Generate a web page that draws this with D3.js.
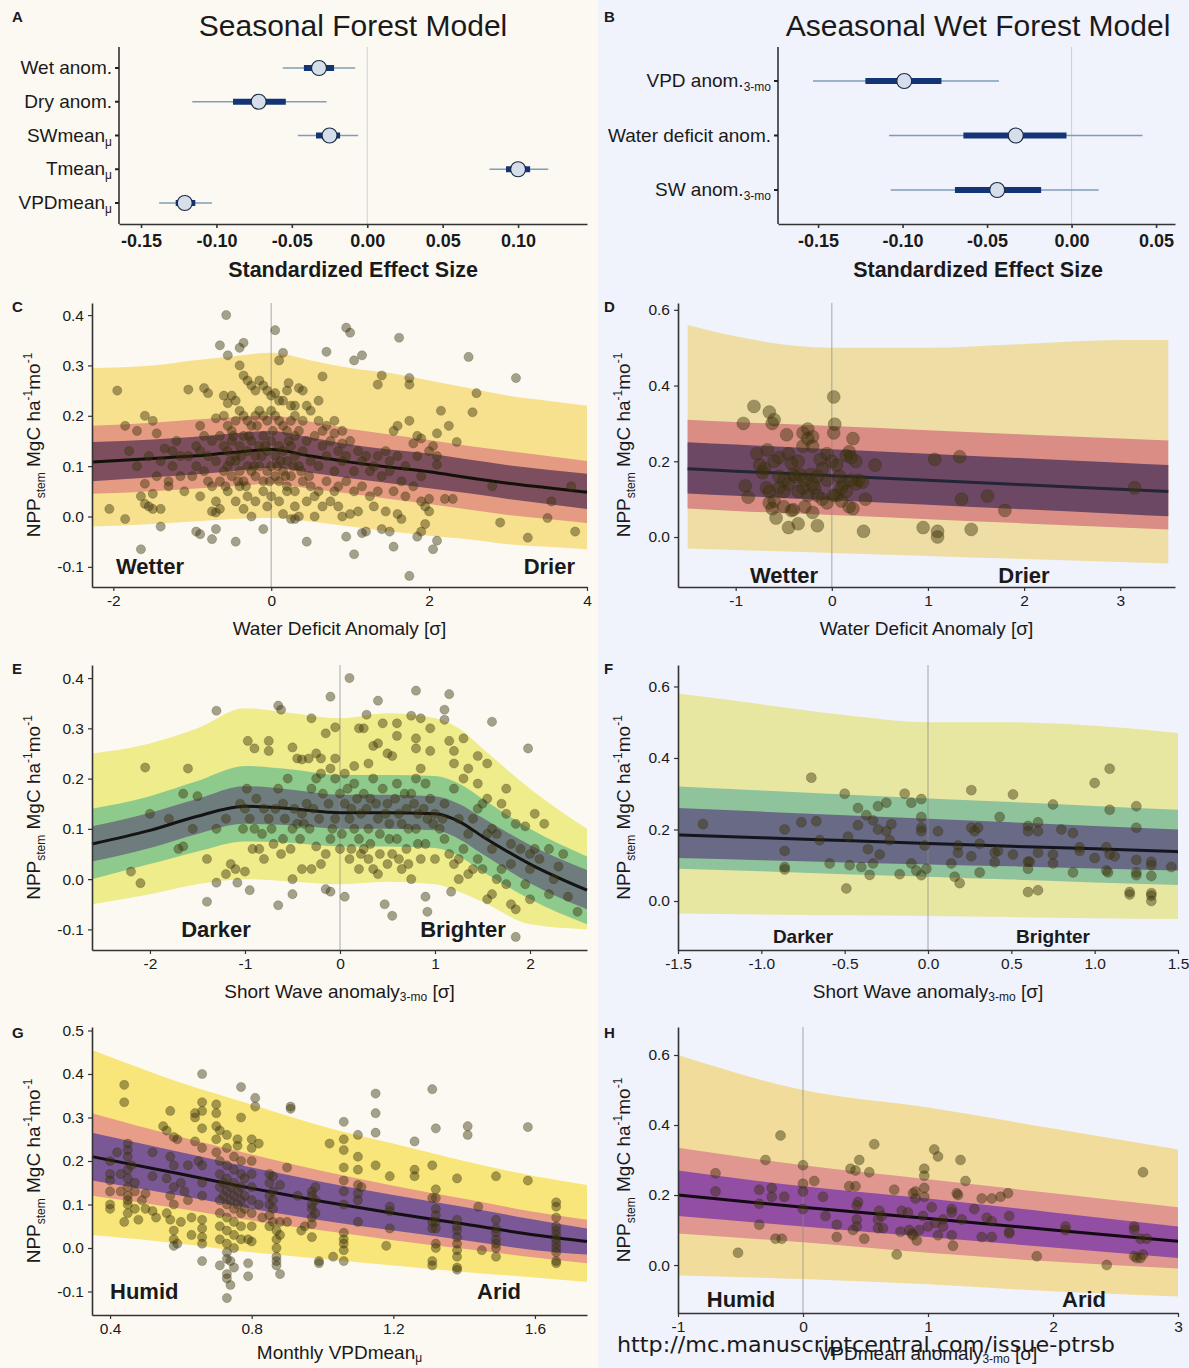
<!DOCTYPE html>
<html>
<head>
<meta charset="utf-8">
<script src="https://cdn.jsdelivr.net/npm/d3@7"></script>
<style>
  body { margin: 0; background: #fff; }
  svg text { font-family: "Liberation Sans", Arial, sans-serif; fill: #1a1a1a; }
</style>
</head>
<body>
<div id="chart"></div>
<script>
// ---------- forest plot data (A, B) ----------
var aLabels = ['Wet anom.', 'Dry anom.', 'SWmean', 'Tmean', 'VPDmean']
var aSubs = ['', '', 'μ', 'μ', 'μ']
var aMean = [-0.032, -0.072, -0.025, 0.100, -0.121]
var aLo50 = [-0.042, -0.089, -0.034, 0.092, -0.127]
var aHi50 = [-0.022, -0.054, -0.018, 0.108, -0.114]
var aLo95 = [-0.056, -0.116, -0.046, 0.081, -0.138]
var aHi95 = [-0.008, -0.027, -0.006, 0.120, -0.103]
var aTicks = [-0.15, -0.10, -0.05, 0.00, 0.05, 0.10]

var bLabels = ['VPD anom.', 'Water deficit anom.', 'SW anom.']
var bSubs = ['3-mo', '', '3-mo']
var bMean = [-0.099, -0.033, -0.044]
var bLo50 = [-0.122, -0.064, -0.069]
var bHi50 = [-0.077, -0.003, -0.018]
var bLo95 = [-0.153, -0.108, -0.107]
var bHi95 = [-0.043, 0.042, 0.016]
var bTicks = [-0.15, -0.10, -0.05, 0.00, 0.05]

// ---------- ribbon knots ----------
var cKx = [-2.27, -1.5, -1, -0.5, 0, 0.5, 1, 1.5, 2, 2.5, 3, 3.5, 4]
var cMed = [0.108, 0.115, 0.12, 0.127, 0.133, 0.12, 0.108, 0.098, 0.089, 0.077, 0.066, 0.057, 0.048]
var cInLo = [0.07, 0.078, 0.083, 0.09, 0.097, 0.087, 0.076, 0.066, 0.056, 0.046, 0.035, 0.025, 0.015]
var cInHi = [0.148, 0.153, 0.158, 0.165, 0.17, 0.157, 0.143, 0.133, 0.125, 0.113, 0.102, 0.093, 0.085]
var cMidLo = [0.045, 0.05, 0.055, 0.06, 0.065, 0.055, 0.045, 0.035, 0.025, 0.014, 0.003, -0.005, -0.013]
var cMidHi = [0.18, 0.186, 0.192, 0.197, 0.2, 0.188, 0.174, 0.163, 0.152, 0.14, 0.13, 0.12, 0.11]
var cOutLo = [-0.02, -0.015, -0.01, -0.005, -0.003, -0.01, -0.02, -0.03, -0.038, -0.045, -0.055, -0.06, -0.065]
var cOutHi = [0.295, 0.3, 0.31, 0.318, 0.325, 0.31, 0.295, 0.285, 0.27, 0.255, 0.24, 0.23, 0.22]

var dKx = [-1.5, -1, 0, 1, 2, 3, 3.5]
var dMed = [0.18, 0.174, 0.162, 0.15, 0.138, 0.126, 0.12]
var dInLo = [0.115, 0.109, 0.097, 0.085, 0.073, 0.061, 0.055]
var dInHi = [0.25, 0.244, 0.232, 0.22, 0.208, 0.196, 0.19]
var dMidLo = [0.075, 0.069, 0.058, 0.047, 0.036, 0.025, 0.02]
var dMidHi = [0.31, 0.304, 0.293, 0.282, 0.271, 0.26, 0.255]
var dOutLo = [-0.03, -0.034, -0.042, -0.05, -0.058, -0.066, -0.07]
var dOutHi = [0.56, 0.53, 0.5, 0.5, 0.51, 0.52, 0.52]

var eKx = [-2.61, -2, -1.5, -1, -0.5, 0, 0.5, 1, 1.25, 1.5, 2, 2.6]
var eMed = [0.07, 0.097, 0.125, 0.145, 0.14, 0.132, 0.132, 0.13, 0.115, 0.085, 0.03, -0.022]
var eInLo = [0.035, 0.062, 0.09, 0.11, 0.107, 0.1, 0.1, 0.097, 0.08, 0.05, -0.008, -0.06]
var eInHi = [0.105, 0.132, 0.16, 0.185, 0.178, 0.168, 0.168, 0.165, 0.15, 0.122, 0.068, 0.018]
var eMidLo = [0.0, 0.03, 0.055, 0.075, 0.072, 0.065, 0.065, 0.062, 0.046, 0.015, -0.04, -0.09]
var eMidHi = [0.14, 0.165, 0.195, 0.225, 0.218, 0.207, 0.207, 0.205, 0.19, 0.16, 0.1, 0.045]
var eOutLo = [-0.05, -0.03, -0.01, 0.0, -0.005, -0.01, -0.005, -0.01, -0.025, -0.045, -0.09, -0.1]
var eOutHi = [0.25, 0.27, 0.3, 0.34, 0.33, 0.32, 0.33, 0.32, 0.3, 0.26, 0.18, 0.1]

var fKx = [-1.5, -1, -0.5, 0, 0.5, 1, 1.5]
var fMed = [0.185, 0.177, 0.169, 0.161, 0.153, 0.146, 0.138]
var fInLo = [0.12, 0.114, 0.108, 0.102, 0.097, 0.091, 0.085]
var fInHi = [0.26, 0.25, 0.24, 0.23, 0.22, 0.21, 0.2]
var fMidLo = [0.09, 0.083, 0.075, 0.068, 0.06, 0.052, 0.045]
var fMidHi = [0.32, 0.309, 0.298, 0.287, 0.277, 0.266, 0.255]
var fOutLo = [-0.035, -0.038, -0.04, -0.042, -0.045, -0.048, -0.05]
var fOutHi = [0.58, 0.55, 0.52, 0.5, 0.5, 0.49, 0.47]

var gKx = [0.349, 0.6, 0.8, 1.0, 1.2, 1.4, 1.6, 1.747]
var gMed = [0.21, 0.17, 0.137, 0.107, 0.08, 0.055, 0.03, 0.015]
var gInLo = [0.155, 0.12, 0.09, 0.063, 0.04, 0.018, -0.005, -0.015]
var gInHi = [0.265, 0.22, 0.185, 0.152, 0.122, 0.094, 0.065, 0.045]
var gMidLo = [0.12, 0.09, 0.063, 0.04, 0.018, -0.002, -0.022, -0.035]
var gMidHi = [0.31, 0.255, 0.215, 0.177, 0.143, 0.113, 0.083, 0.065]
var gOutLo = [0.03, 0.01, -0.01, -0.025, -0.04, -0.055, -0.068, -0.078]
var gOutHi = [0.455, 0.38, 0.33, 0.28, 0.24, 0.2, 0.165, 0.145]

var hKx = [-1, 0, 1, 2, 3]
var hMed = [0.2, 0.165, 0.133, 0.1, 0.068]
var hInLo = [0.14, 0.11, 0.08, 0.05, 0.02]
var hInHi = [0.27, 0.225, 0.19, 0.15, 0.11]
var hMidLo = [0.09, 0.065, 0.035, 0.01, -0.01]
var hMidHi = [0.335, 0.285, 0.245, 0.205, 0.165]
var hOutLo = [-0.03, -0.04, -0.055, -0.075, -0.09]
var hOutHi = [0.6, 0.5, 0.45, 0.39, 0.33]

// ---------- observed points [x, NPP] ----------
var cPts = [[-0.57,0.40],[-0.65,0.34],[-0.35,0.345],[-0.4,0.335],[-0.55,0.32],[0.05,0.37],[0.95,0.375],[1.0,0.365],[1.62,0.355],[0.15,0.325],[0.7,0.327],[1.15,0.32],[1.05,0.31],[2.5,0.317],[3.1,0.275],[0.1,0.31],[-1.95,0.25],[-1.05,0.252],[-0.85,0.255],[0.65,0.278],[1.35,0.262],[1.4,0.28],[1.75,0.275],[1.75,0.262],[2.6,0.245],[2.55,0.207],[2.15,0.21],[2.25,0.18],[2.1,0.165],[2.35,0.148],[1.85,0.16],[1.9,0.155],[0.35,0.255],[0.22,0.265],
[-1.6,0.2],[-1.5,0.19],[-1.85,0.18],[-1.7,0.17],[-1.45,0.165],[-1.2,0.15],[-1.35,0.135],[-1.15,0.12],[-1.25,0.10],[-1.0,0.08],[-1.3,0.06],[-1.1,0.05],[-1.5,0.045],[-1.65,0.04],[-1.6,0.025],[-1.55,0.02],[-1.5,0.015],[-1.4,0.015],[-2.05,0.015],[-1.85,-0.005],[-1.4,-0.02],[-0.95,-0.03],[-0.9,-0.035],[-0.7,-0.025],[-0.75,-0.045],[-0.45,-0.05],[-0.1,-0.025],[-1.65,-0.065],[-0.8,0.245],[-0.7,0.195],[-0.9,0.13],[-0.95,0.1],[-0.8,0.07],[-0.75,0.01],[-0.7,0.008],[-0.65,0.015],
[0.8,0.19],[0.9,0.17],[1.0,0.15],[1.1,0.13],[1.2,0.12],[1.3,0.1],[1.4,0.08],[1.5,0.11],[1.55,0.17],[1.6,0.18],[1.75,0.19],[1.8,0.145],[1.85,0.12],[1.7,0.1],[1.9,0.08],[2.0,0.13],[2.05,0.14],[2.1,0.12],[2.1,0.103],[1.8,0.06],[1.9,0.03],[1.95,0.02],[2.0,0.035],[2.0,0.01],[1.95,-0.015],[1.9,-0.03],[1.85,-0.04],[2.05,-0.065],[2.1,-0.048],[2.3,0.035],[1.55,-0.06],[1.5,-0.03],[1.4,-0.025],[1.2,-0.03],[1.15,-0.033],[1.05,-0.075],[0.95,-0.04],[0.45,-0.05],[1.75,-0.118],[0.25,-0.005],[0.3,-0.005],[0.85,0.02],[0.9,0.0],[1.0,0.005],[1.1,0.01],[1.3,0.02],[1.45,0.01],[1.6,0.005],[1.65,-0.005],[2.8,0.06],[2.9,-0.012],[3.25,-0.042],[3.5,-0.003],[3.55,0.03],[3.85,-0.03],[3.8,0.06],[2.2,0.035],
[-0.6,0.24],[-0.55,0.225],[-0.5,0.24],[-0.45,0.23],[-0.4,0.3],[-0.35,0.28],[-0.3,0.27],[-0.25,0.26],[-0.2,0.25],[-0.15,0.27],[-0.1,0.26],[-0.05,0.25],[0,0.24],[0.05,0.245],[0.1,0.23],[0.15,0.23],[0.2,0.25],[0.25,0.22],[0.3,0.2],[0.4,0.19],[0.5,0.21],[0.6,0.19],[0.7,0.18],
[-0.6,0.2],[-0.55,0.18],[-0.5,0.17],[-0.45,0.19],[-0.4,0.21],[-0.35,0.2],[-0.3,0.19],[-0.25,0.18],[-0.2,0.2],[-0.15,0.21],[-0.1,0.2],[-0.05,0.19],[0,0.21],[0.05,0.2],[0.1,0.19],[0.15,0.18],[0.2,0.17],[0.25,0.19],[0.3,0.16],[0.35,0.17],[0.45,0.15],[0.55,0.16],[0.65,0.14],[0.75,0.15],[0.85,0.13],
[-0.6,0.14],[-0.55,0.13],[-0.5,0.15],[-0.45,0.12],[-0.4,0.14],[-0.35,0.16],[-0.3,0.13],[-0.25,0.15],[-0.2,0.12],[-0.15,0.14],[-0.1,0.16],[-0.05,0.13],[0,0.15],[0.05,0.12],[0.1,0.14],[0.15,0.13],[0.2,0.11],[0.25,0.14],[0.3,0.12],[0.35,0.1],[0.4,0.13],[0.5,0.11],[0.6,0.1],[0.7,0.12],[0.8,0.09],[0.9,0.11],
[-0.6,0.09],[-0.55,0.1],[-0.5,0.08],[-0.45,0.11],[-0.4,0.09],[-0.35,0.07],[-0.3,0.1],[-0.25,0.09],[-0.2,0.08],[-0.15,0.1],[-0.1,0.07],[-0.05,0.09],[0,0.1],[0.05,0.08],[0.1,0.07],[0.15,0.09],[0.2,0.06],[0.25,0.08],[0.3,0.05],[0.4,0.07],[0.5,0.06],[0.6,0.05],[0.7,0.07],[0.8,0.05],
[-0.55,0.05],[-0.45,0.03],[-0.4,0.06],[-0.3,0.04],[-0.2,0.03],[-0.1,0.05],[0,0.04],[0.1,0.03],[0.2,0.05],[0.3,0.02],[0.45,0.03],[0.55,0.04],[0.65,0.02],[0.75,0.03],[-0.35,0.015],[-0.25,0.0],[-0.05,0.02],[0.15,0.005],[0.35,-0.0],[0.55,0.0],
[-0.9,0.18],[-0.85,0.16],[-0.8,0.12],[-0.75,0.15],[-0.7,0.11],[-0.65,0.16],[-0.95,0.14],[-0.85,0.09],[-0.75,0.06],[-0.65,0.07],[-0.7,0.03],[-0.9,0.04],[-1.05,0.12],[-1.15,0.08],[-1.25,0.13],[-1.4,0.11],[-1.55,0.12],[-1.7,0.1],[-1.8,0.13],[-1.45,0.08],[-1.3,0.07],[-1.6,0.065],
[0.4,0.25],[0.3,0.22],[0.45,0.22],[0.6,0.23],[0.65,0.17],[0.8,0.165],[0.9,0.145],[0.95,0.12],[1.05,0.09],[1.15,0.11],[1.25,0.09],[1.35,0.12],[1.45,0.13],[1.5,0.09],[1.6,0.12],[1.65,0.07],[1.7,0.04],[1.55,0.05],[1.35,0.05],[1.25,0.04],[1.15,0.06],[1.05,0.05],[0.95,0.07],[0.85,0.06],
[-0.48,0.16],[-0.38,0.12],[-0.28,0.16],[-0.18,0.18],[-0.08,0.14],[0.02,0.17],[0.12,0.11],[0.22,0.15],[-0.42,0.07],[-0.32,0.06],[-0.22,0.1],[-0.12,0.12],[-0.02,0.07],[0.08,0.1],[0.18,0.08],[0.28,0.1],[-0.52,0.11],[-0.58,0.06],[0.38,0.09],[0.48,0.08]]

var dPts = [[-0.92,0.3],[-0.81,0.345],[-0.65,0.33],[-0.6,0.31],[-0.62,0.3],[-0.47,0.27],[-0.25,0.285],[-0.3,0.275],[-0.2,0.265],[0.02,0.37],[0.03,0.298],[0.02,0.275],[0.22,0.26],[0.18,0.225],[0.25,0.2],[0.45,0.19],[-0.78,0.22],[-0.7,0.18],[-0.67,0.23],[-0.6,0.2],[-0.55,0.21],[-0.45,0.22],[-0.42,0.195],[-0.35,0.2],[-0.3,0.24],[-0.25,0.26],[-0.2,0.24],[-0.12,0.205],[-0.05,0.22],[0.0,0.2],[0.05,0.19],[0.15,0.215],[0.2,0.21],[-0.9,0.135],[-0.87,0.105],[-0.68,0.13],[-0.65,0.12],[-0.6,0.095],[-0.55,0.13],[-0.5,0.12],[-0.45,0.14],[-0.4,0.165],[-0.38,0.16],[-0.3,0.13],[-0.28,0.15],[-0.22,0.165],[-0.18,0.13],[-0.15,0.11],[-0.1,0.1],[-0.05,0.09],[0.02,0.11],[0.05,0.11],[0.1,0.095],[0.12,0.14],[0.15,0.12],[0.18,0.08],[0.22,0.075],[0.25,0.14],[0.28,0.15],[0.32,0.145],[0.35,0.1],[-0.65,0.09],[-0.62,0.075],[-0.58,0.05],[-0.5,0.08],[-0.42,0.07],[-0.4,0.072],[-0.35,0.035],[-0.45,0.025],[-0.28,0.08],[-0.2,0.065],[-0.15,0.03],[0.33,0.015],[0.95,0.025],[1.1,0.015],[1.1,0.0],[1.45,0.02],[1.07,0.205],[1.33,0.212],[1.35,0.1],[1.62,0.108],[1.8,0.07],[3.15,0.13],[-0.2,0.14],[-0.1,0.18],[0.08,0.16],[-0.33,0.165],[-0.5,0.15],[-0.55,0.16],[-0.75,0.19],[-0.15,0.16],[0.1,0.13],[-0.25,0.11],[-0.35,0.12],[0.2,0.15],[-0.05,0.15],[-0.72,0.17]]

var ePts = [[0.1,0.4],[-0.1,0.363],[0.8,0.375],[1.15,0.368],[0.4,0.355],[-0.65,0.345],[-0.62,0.337],[-1.3,0.335],[1.1,0.337],[-0.3,0.32],[0.28,0.327],[0.75,0.325],[0.85,0.32],[1.1,0.317],[1.6,0.313],[0.6,0.31],[0.45,0.31],[-0.05,0.302],[0.95,0.3],[0.2,0.3],[0.25,0.3],[1.98,0.26],[1.3,0.28],[1.15,0.275],[0.6,0.285],[0.5,0.25],[0.35,0.265],[0.4,0.27],[-0.15,0.29],[-0.97,0.275],[-0.75,0.275],[-1.6,0.22],[-2.05,0.222],[-0.9,0.26],[-0.75,0.255],[-0.5,0.262],[-0.33,0.24],[-0.4,0.238],[-0.25,0.25],[-0.2,0.24],[-0.45,0.24],[0.8,0.28],[0.8,0.26],[0.95,0.255],[1.2,0.255],[1.45,0.245],[1.55,0.23],[1.35,0.22],[1.2,0.23],[1.75,0.18],[1.7,0.15],[1.75,0.13],[1.85,0.11],[1.95,0.105],[2.05,0.13],[2.15,0.11],[1.65,0.09],[1.8,0.07],[1.9,0.06],[2.0,0.05],[2.1,0.04],[2.0,0.02],[1.95,-0.01],[2.0,-0.04],[2.2,-0.03],[2.25,0.0],[2.3,0.025],[2.4,-0.035],[2.5,-0.065],[2.35,0.05],[1.85,-0.06],[1.8,-0.05],[1.85,-0.115],[1.6,-0.03],[1.55,-0.04],[1.17,-0.025],[0.9,-0.035],[0.92,-0.065],[0.55,-0.073],[0.47,-0.05],[0.05,-0.035],[-0.1,-0.025],[-0.15,-0.02],[-0.5,-0.03],[-0.65,-0.052],[-0.95,-0.022],[-1.4,-0.045],[-2.1,-0.008],[-2.2,0.015],[-1.3,-0.007],[-1.08,-0.007],[-1.2,0.01],[-1.1,0.02],[-1.15,0.03],[-1.0,0.015],[-0.5,-0.0],[-1.4,0.04],[-2.0,0.13],[-1.8,0.12],[-1.7,0.06],[-1.65,0.065],[-1.65,0.17],[-1.5,0.165],[-1.55,0.1],[-1.3,0.1],[-1.2,0.12],[-1.05,0.15],[-1.0,0.14],[-0.95,0.12],[-0.9,0.1],[-0.85,0.06],[-0.8,0.04],[-0.7,0.07],[-0.6,0.08],[-0.5,0.1],[-0.45,0.11],[-0.4,0.13],[-0.35,0.15],[-0.3,0.18],[-0.25,0.2],[-0.2,0.21],[-0.1,0.22],[-0.05,0.2],[0.0,0.17],[0.05,0.15],[0.1,0.12],[0.15,0.1],[0.2,0.08],[0.25,0.06],[0.3,0.04],[0.35,0.02],[0.4,0.01],[0.5,0.03],[0.55,0.05],[0.6,0.08],[0.65,0.11],[0.7,0.14],[0.75,0.17],[0.8,0.2],[0.85,0.22],[0.9,0.19],[0.95,0.16],[1.0,0.13],[1.05,0.1],[1.1,0.08],[1.15,0.05],[1.2,0.03],[1.25,0.04],[1.3,0.06],[1.35,0.09],[1.4,0.12],[1.45,0.14],[1.5,0.15],[1.55,0.09],[1.6,0.06],[1.45,0.04],[1.35,0.01],[1.25,-0.0],[1.4,0.02],[-0.75,0.12],[-0.6,0.15],[-0.55,0.2],[-0.65,0.18],[-0.8,0.14],[-0.15,0.05],[-0.2,0.03],[-0.3,0.02],[-0.4,0.02],[-0.25,0.065],[-0.1,0.08],[0.0,0.06],[0.1,0.04],[0.2,0.02],[0.3,0.1],[0.4,0.12],[0.5,0.15],[0.45,0.18],[0.35,0.2],[0.25,0.17],[0.15,0.19],[0.05,0.21],[0.6,0.19],[0.7,0.06],[0.8,0.1],[0.9,0.07],[1.0,0.04],[1.1,0.15],[1.2,0.18],[1.3,0.2],[1.25,0.12],[0.65,0.02],[0.75,0.0],[0.85,0.04],[-0.05,0.12],[0.02,0.09],[0.12,0.14],[0.22,0.13],[0.32,0.16],[0.42,0.09],[0.52,0.11],[0.62,0.13],[0.72,0.1],[0.82,0.13],[0.92,0.12],[-0.12,0.15],[-0.22,0.12],[-0.32,0.1],[-0.42,0.08],[-0.52,0.06],[-0.62,0.05],[-0.72,0.1],[-0.82,0.09],[-0.92,0.06],[-1.02,0.1],[0.55,0.245],[0.3,0.23],[0.15,0.225],[-0.05,0.24],
[0.08,0.18],[0.18,0.16],[0.28,0.14],[0.38,0.15],[0.48,0.13],[0.58,0.16],[0.68,0.17],[0.78,0.15],[0.88,0.14],[0.98,0.11],[1.08,0.12],[0.12,0.06],[0.22,0.05],[0.32,0.07],[0.42,0.05],[0.52,0.08],[0.62,0.04],[0.72,0.03],[0.82,0.07],[-0.08,0.1],[-0.18,0.17],[-0.28,0.14],[-0.38,0.11],[-0.48,0.14],[-0.58,0.12],[-0.68,0.14],[-0.88,0.16],[-0.98,0.18],[1.5,0.02],[1.7,0.02],[1.65,0.0],[1.75,-0.01],[1.6,0.1],[1.8,0.03],[2.2,0.06],[2.05,0.06],[1.45,0.19],[1.55,0.16]]

var fPts = [[-1.35,0.215],[-0.86,0.2],[-0.86,0.14],[-0.86,0.095],[-0.86,0.088],[-0.76,0.22],[-0.7,0.345],[-0.67,0.223],[-0.65,0.17],[-0.59,0.105],[-0.5,0.3],[-0.48,0.18],[-0.47,0.1],[-0.49,0.035],[-0.42,0.26],[-0.42,0.212],[-0.4,0.095],[-0.37,0.24],[-0.36,0.145],[-0.35,0.073],[-0.33,0.225],[-0.33,0.105],[-0.3,0.265],[-0.3,0.2],[-0.29,0.13],[-0.25,0.275],[-0.25,0.195],[-0.23,0.17],[-0.22,0.215],[-0.17,0.075],[-0.14,0.3],[-0.1,0.275],[-0.1,0.105],[-0.07,0.085],[-0.04,0.285],[-0.04,0.235],[-0.04,0.205],[-0.04,0.195],[-0.04,0.072],[-0.02,0.155],[-0.01,0.09],[0.06,0.195],[0.14,0.105],[0.16,0.068],[0.18,0.155],[0.18,0.135],[0.19,0.05],[0.26,0.31],[0.26,0.205],[0.26,0.125],[0.28,0.195],[0.3,0.205],[0.31,0.16],[0.31,0.08],[0.4,0.135],[0.4,0.108],[0.42,0.14],[0.43,0.235],[0.51,0.298],[0.51,0.13],[0.6,0.21],[0.6,0.195],[0.6,0.11],[0.6,0.09],[0.6,0.025],[0.61,0.11],[0.66,0.22],[0.66,0.195],[0.66,0.135],[0.66,0.03],[0.75,0.27],[0.75,0.13],[0.75,0.105],[0.8,0.2],[0.87,0.19],[0.87,0.08],[0.91,0.15],[0.91,0.14],[1.0,0.33],[1.0,0.12],[1.07,0.15],[1.07,0.085],[1.08,0.08],[1.09,0.37],[1.09,0.255],[1.09,0.13],[1.12,0.125],[1.21,0.025],[1.21,0.018],[1.25,0.265],[1.25,0.205],[1.25,0.115],[1.25,0.08],[1.25,0.072],[1.34,0.11],[1.34,0.1],[1.34,0.07],[1.34,0.022],[1.34,0.015],[1.34,0.0],[1.46,0.095]]

var gPts = [[0.40,0.17],[0.40,0.155],[0.40,0.13],[0.40,0.1],[0.40,0.09],[0.40,0.2],
[0.44,0.375],[0.44,0.335],[0.45,0.24],[0.45,0.225],[0.45,0.21],[0.45,0.18],[0.45,0.16],[0.45,0.14],[0.45,0.12],[0.45,0.11],[0.45,0.1],[0.45,0.08],[0.44,0.06],[0.47,0.13],[0.47,0.09],[0.48,0.065],[0.5,0.125],[0.5,0.09],[0.52,0.22],[0.52,0.165],[0.52,0.085],[0.53,0.07],[0.46,0.19],[0.47,0.15],[0.49,0.11],[0.43,0.13],[0.43,0.17],[0.42,0.22],
[0.55,0.28],[0.56,0.27],[0.57,0.315],[0.58,0.255],[0.59,0.25],[0.57,0.21],[0.58,0.19],[0.56,0.16],[0.58,0.14],[0.57,0.12],[0.58,0.1],[0.56,0.08],[0.57,0.065],[0.58,0.04],[0.58,0.02],[0.58,0.005],[0.59,0.01],[0.6,0.06],[0.62,0.19],[0.62,0.11],[0.63,0.07],[0.63,0.03],[0.6,0.15],[0.61,0.13],
[0.64,0.3],[0.64,0.31],[0.64,0.245],[0.65,0.2],[0.66,0.4],[0.66,0.335],[0.66,0.315],[0.66,0.275],[0.66,0.23],[0.66,0.19],[0.66,0.15],[0.66,0.12],[0.66,0.065],[0.66,0.045],[0.66,0.025],[0.66,0.01],[0.66,-0.03],[0.7,0.33],[0.7,0.31],[0.7,0.28],[0.7,0.25],[0.7,0.22],[0.71,0.27],[0.71,0.2],[0.71,0.17],[0.71,0.14],[0.71,0.11],[0.71,0.08],[0.71,0.05],[0.71,0.02],[0.71,-0.04],
[0.73,0.26],[0.73,0.23],[0.73,0.19],[0.73,0.16],[0.73,0.13],[0.73,0.1],[0.73,0.07],[0.73,0.04],[0.73,0.01],[0.73,-0.01],[0.73,-0.025],[0.73,-0.06],[0.73,-0.07],[0.73,-0.115],[0.74,-0.085],[0.74,-0.03],[0.75,0.21],[0.75,0.18],[0.75,0.15],[0.75,0.12],[0.75,0.09],[0.75,0.06],[0.75,0.03],[0.75,0.0],[0.75,-0.045],[0.76,0.25],[0.76,0.235],[0.77,0.37],[0.77,0.3],[0.77,0.2],[0.77,0.17],[0.77,0.14],[0.77,0.11],[0.77,0.08],[0.77,0.05],[0.77,0.02],[0.78,0.16],[0.78,0.12],[0.78,0.09],[0.79,-0.065],[0.79,-0.035],[0.79,0.02],[0.74,0.14],[0.74,0.11],[0.76,0.13],[0.76,0.1],[0.72,0.12],[0.72,0.15],
[0.8,0.25],[0.8,0.23],[0.8,0.2],[0.8,0.17],[0.8,0.14],[0.8,0.11],[0.8,0.08],[0.8,0.05],[0.8,0.015],[0.81,0.345],[0.81,0.325],[0.82,0.24],[0.82,0.1],[0.83,0.07],[0.85,0.17],[0.85,0.15],[0.85,0.12],[0.85,0.1],[0.85,0.075],[0.85,0.05],[0.86,0.165],[0.86,0.13],[0.86,0.11],[0.86,0.09],[0.86,0.06],[0.87,0.04],[0.87,0.02],[0.87,0.0],[0.87,-0.02],[0.87,-0.03],[0.87,-0.04],[0.88,-0.06],[0.88,0.145],[0.88,0.06],[0.88,0.03],[0.9,0.185],[0.91,0.325],[0.91,0.32],[0.9,0.06],
[0.93,0.12],[0.94,0.04],[0.95,0.05],[0.97,0.13],[0.97,0.12],[0.97,0.1],[0.97,0.09],[0.97,0.07],[0.97,0.055],[0.97,0.025],[0.98,0.14],[0.98,0.11],[0.98,0.08],[0.99,-0.03],[0.99,-0.035],[1.02,0.24],[1.03,-0.02],
[1.06,0.29],[1.06,0.25],[1.06,0.225],[1.06,0.185],[1.06,0.155],[1.06,0.13],[1.06,0.1],[1.06,0.035],[1.06,0.02],[1.06,0.01],[1.06,-0.005],[1.06,-0.03],
[1.1,0.26],[1.1,0.21],[1.1,0.18],[1.1,0.145],[1.1,0.125],[1.1,0.11],[1.1,0.06],[1.11,0.14],
[1.15,0.355],[1.15,0.31],[1.15,0.265],[1.15,0.19],
[1.19,0.165],[1.19,0.095],[1.19,0.085],[1.19,0.045],[1.18,0.005],
[1.26,0.245],[1.26,0.18],[1.26,0.165],
[1.31,0.365],[1.31,0.19],[1.31,0.115],[1.31,0.06],[1.31,0.045],[1.31,-0.03],[1.31,-0.04],[1.32,0.275],[1.32,0.135],[1.32,0.115],[1.32,0.09],[1.32,0.075],[1.32,0.06],[1.32,0.045],[1.32,0.01],[1.32,0.0],
[1.38,0.16],[1.38,0.065],[1.38,0.05],[1.38,0.04],[1.38,0.025],[1.38,0.01],[1.38,-0.005],[1.38,-0.02],[1.38,-0.045],[1.38,-0.05],[1.41,0.28],[1.41,0.26],[1.44,0.095],[1.45,-0.005],
[1.49,0.165],[1.49,0.065],[1.49,0.045],[1.49,0.035],[1.49,0.02],[1.49,0.01],[1.49,0.0],[1.49,-0.02],
[1.58,0.278],[1.58,0.155],
[1.66,0.105],[1.66,0.095],[1.66,0.07],[1.66,0.04],[1.66,0.03],[1.66,0.02],[1.66,0.01],[1.66,0.0],[1.66,-0.01],[1.66,-0.03],[1.66,-0.035],[1.66,0.05]]

var hPts = [[-0.7,0.262],[-0.7,0.21],[-0.52,0.035],[-0.35,0.215],[-0.35,0.175],[-0.35,0.115],[-0.3,0.3],[-0.25,0.22],[-0.25,0.195],[-0.22,0.075],[-0.18,0.37],[-0.17,0.075],[-0.15,0.195],[0.0,0.285],[0.0,0.232],[0.0,0.21],[0.0,0.16],[0.09,0.24],[0.16,0.195],[0.18,0.14],[0.27,0.115],[0.27,0.08],[0.37,0.225],[0.38,0.275],[0.4,0.1],[0.42,0.225],[0.42,0.27],[0.43,0.17],[0.43,0.13],[0.43,0.11],[0.44,0.18],[0.45,0.3],[0.49,0.075],[0.53,0.265],[0.57,0.345],[0.6,0.105],[0.6,0.13],[0.61,0.155],[0.63,0.14],[0.64,0.105],[0.73,0.215],[0.75,0.03],[0.78,0.095],[0.79,0.155],[0.84,0.15],[0.85,0.1],[0.87,0.09],[0.88,0.085],[0.88,0.205],[0.9,0.21],[0.9,0.19],[0.91,0.07],[0.93,0.1],[0.96,0.14],[0.97,0.275],[0.97,0.255],[0.97,0.22],[0.97,0.195],[1.0,0.11],[1.03,0.165],[1.05,0.33],[1.06,0.12],[1.08,0.31],[1.08,0.085],[1.12,0.13],[1.12,0.11],[1.19,0.16],[1.19,0.15],[1.19,0.085],[1.2,0.055],[1.23,0.205],[1.24,0.2],[1.26,0.3],[1.27,0.13],[1.3,0.24],[1.37,0.16],[1.43,0.19],[1.43,0.08],[1.47,0.135],[1.51,0.125],[1.51,0.19],[1.51,0.08],[1.58,0.195],[1.64,0.205],[1.65,0.14],[1.65,0.095],[1.65,0.09],[1.87,0.025],[2.1,0.1],[2.1,0.11],[2.43,0.0],[2.65,0.11],[2.65,0.1],[2.65,0.025],[2.67,0.02],[2.7,0.075],[2.7,0.02],[2.72,0.265],[2.72,0.03],[2.75,0.075]]

var W = 1189, H = 1368
var svg = d3.select('#chart').append('svg').attr('width', W).attr('height', H)

// column backgrounds
svg.append('rect').attr('x', 0).attr('y', 0).attr('width', 598).attr('height', H).attr('fill', '#fcf9f3')
svg.append('rect').attr('x', 598).attr('y', 0).attr('width', W - 598).attr('height', H).attr('fill', '#f0f2fc')

function panelLetter(x, y, s) {
    svg.append('text').attr('x', x).attr('y', y).style('font-weight', 'bold').style('font-size', '15px').text(s)
}

// ---------- forest panels ----------
function forest(o) {
    var g = svg.append('g')
    var x = d3.scaleLinear().domain(o.xd).range(o.xr)
    var y = d3.scalePoint().domain(o.labels).range(o.yr)
    var top = 47, bot = 224

    g.append('line').attr('x1', x(0)).attr('x2', x(0)).attr('y1', top).attr('y2', bot)
        .attr('stroke', '#cfcfcf').attr('stroke-width', 1)

    var xa = g.append('g').attr('transform', 'translate(0,' + bot + ')')
        .call(d3.axisBottom(x).tickValues(o.ticks).tickSize(4).tickSizeOuter(0).tickPadding(6).tickFormat(function(d){ return d.toFixed(2) }))
    xa.select('.domain').attr('stroke', '#333').attr('stroke-width', 1.6)
    xa.selectAll('.tick line').attr('stroke', '#333').attr('stroke-width', 1.6)
    xa.selectAll('text').style('font-size', '18px').style('font-weight', 'bold').style('font-family', 'Liberation Sans, Arial, sans-serif').attr('fill', '#111')

    g.append('line').attr('x1', o.xr[0]).attr('x2', o.xr[0]).attr('y1', top).attr('y2', bot)
        .attr('stroke', '#333').attr('stroke-width', 1.6)

    o.labels.forEach(function(lab, i){
        var yy = y(lab)
        g.append('line').attr('x1', o.xr[0] - 4).attr('x2', o.xr[0]).attr('y1', yy).attr('y2', yy).attr('stroke', '#222').attr('stroke-width', 2)
        var t = g.append('text').attr('x', o.xr[0] - 7).attr('y', yy + 6).attr('text-anchor', 'end').style('font-size', '19px').attr('fill', '#222')
        t.append('tspan').text(lab)
        if (o.subs[i]) t.append('tspan').attr('dy', 4).style('font-size', '12px').text(o.subs[i])
        g.append('line').attr('x1', x(o.lo95[i])).attr('x2', x(o.hi95[i])).attr('y1', yy).attr('y2', yy)
            .attr('stroke', '#7f9db8').attr('stroke-width', 1.6)
        g.append('line').attr('x1', x(o.lo50[i])).attr('x2', x(o.hi50[i])).attr('y1', yy).attr('y2', yy)
            .attr('stroke', '#133576').attr('stroke-width', 6)
        g.append('circle').attr('cx', x(o.mean[i])).attr('cy', yy).attr('r', 7.5)
            .attr('fill', '#d5deea').attr('stroke', '#1c2a40').attr('stroke-width', 1.2)
    })

    g.append('text').attr('x', o.tx).attr('y', 36).attr('text-anchor', 'middle').style('font-size', '30px').attr('fill', '#111').text(o.title)
    g.append('text').attr('x', o.tx).attr('y', 277).attr('text-anchor', 'middle').style('font-size', '21.5px').style('font-weight', 'bold').attr('fill', '#111').text('Standardized Effect Size')
}

forest({labels: aLabels, subs: aSubs, mean: aMean, lo50: aLo50, hi50: aHi50, lo95: aLo95, hi95: aHi95, ticks: aTicks,
    xd: [-0.1646, 0.1457], xr: [119, 587], yr: [68, 203], title: 'Seasonal Forest Model', tx: 353})
forest({labels: bLabels, subs: bSubs, mean: bMean, lo50: bLo50, hi50: bHi50, lo95: bLo95, hi95: bHi95, ticks: bTicks,
    xd: [-0.1737, 0.0612], xr: [778, 1175], yr: [81, 190], title: 'Aseasonal Wet Forest Model', tx: 978})
panelLetter(12, 22, 'A')
panelLetter(604, 22, 'B')

// ---------- ribbon + scatter panels ----------
function ribbon(o) {
    var g = svg.append('g')
    var x = d3.scaleLinear().domain(o.xd).range(o.xr)
    var y = d3.scaleLinear().domain(o.yd).range(o.yr)
    var band = function(lo, hi){
        return d3.area().x(function(d, i){ return x(o.kx[i]) })
            .y0(function(d, i){ return y(lo[i]) }).y1(function(d, i){ return y(hi[i]) })
            .curve(d3.curveMonotoneX)(o.kx)
    }
    g.append('path').attr('d', band(o.outLo, o.outHi)).attr('fill', o.colors[0])
    g.append('path').attr('d', band(o.midLo, o.midHi)).attr('fill', o.colors[1])
    g.append('path').attr('d', band(o.inLo, o.inHi)).attr('fill', o.colors[2])

    if (o.zero) {
        g.append('line').attr('x1', x(0)).attr('x2', x(0)).attr('y1', o.yr[1]).attr('y2', o.yr[0])
            .attr('stroke', '#8a8a8a').attr('stroke-opacity', 0.6).attr('stroke-width', 1.2)
    }

    g.append('path').attr('d', d3.line().x(function(d, i){ return x(o.kx[i]) }).y(function(d, i){ return y(o.med[i]) })
        .curve(d3.curveMonotoneX)(o.kx)).attr('fill', 'none').attr('stroke', o.lineColor).attr('stroke-width', 3)

    g.append('g').selectAll('circle').data(o.pts).enter().append('circle')
        .attr('cx', function(d){ return x(d[0]) }).attr('cy', function(d){ return y(d[1]) }).attr('r', o.r)
        .attr('fill', '#3b3208').attr('fill-opacity', 0.45)
        .attr('stroke', '#2a2405').attr('stroke-opacity', 0.25).attr('stroke-width', 0.8)

    var xa = g.append('g').attr('transform', 'translate(0,' + o.yr[0] + ')')
        .call(d3.axisBottom(x).tickValues(o.xticks).tickSize(4).tickSizeOuter(0).tickPadding(4).tickFormat(o.xfmt))
    var ya = g.append('g').attr('transform', 'translate(' + o.xr[0] + ',0)')
        .call(d3.axisLeft(y).tickValues(o.yticks).tickSize(4).tickSizeOuter(0).tickPadding(4).tickFormat(function(d){ return d.toFixed(1) }))
    ;[xa, ya].forEach(function(a){
        a.select('.domain').attr('stroke', '#333').attr('stroke-width', 1.6)
        a.selectAll('.tick line').attr('stroke', '#333').attr('stroke-width', 1.2)
        a.selectAll('text').style('font-size', '15.5px').style('font-family', 'Liberation Sans, Arial, sans-serif').attr('fill', '#222')
    })

    // y title
    var yt = g.append('text').attr('transform', 'translate(' + o.ytx + ',' + ((o.yr[0] + o.yr[1]) / 2) + ') rotate(-90)')
        .attr('text-anchor', 'middle').style('font-size', '19px').attr('fill', '#222')
    yt.append('tspan').text('NPP')
    yt.append('tspan').attr('dy', 5).style('font-size', '12px').text('stem')
    yt.append('tspan').attr('dy', -5).text(' MgC ha')
    yt.append('tspan').attr('dy', -8).style('font-size', '12px').text('-1')
    yt.append('tspan').attr('dy', 8).text('mo')
    yt.append('tspan').attr('dy', -8).style('font-size', '12px').text('-1')

    // x title
    var xt = g.append('text').attr('x', (o.xr[0] + o.xr[1]) / 2).attr('y', o.yr[0] + o.xtdy)
        .attr('text-anchor', 'middle').style('font-size', '19px').attr('fill', '#222')
    xt.append('tspan').text(o.xtitle[0])
    if (o.xtitle[1]) xt.append('tspan').attr('dy', 3).style('font-size', '12px').text(o.xtitle[1])
    if (o.xtitle[2]) xt.append('tspan').attr('dy', -3).text(o.xtitle[2])

    // direction words
    o.words.forEach(function(w){
        g.append('text').attr('x', w.x).attr('y', w.y).attr('text-anchor', w.a)
            .style('font-size', o.wsize + 'px').style('font-weight', 'bold').attr('fill', '#111').text(w.t)
    })
}

var fmtInt = function(d){ return String(d) }
var fmt1 = function(d){ return d.toFixed(1) }

ribbon({xd: [-2.27, 4], xr: [92, 587], yd: [-0.14, 0.424], yr: [587, 303],
    kx: cKx, med: cMed, inLo: cInLo, inHi: cInHi, midLo: cMidLo, midHi: cMidHi, outLo: cOutLo, outHi: cOutHi,
    colors: ['#f7e08e', '#e49b82', '#7d4f5e'], lineColor: '#14100a', pts: cPts, r: 4.6, zero: true,
    xticks: [-2, 0, 2, 4], xfmt: fmtInt, yticks: [-0.1, 0, 0.1, 0.2, 0.3, 0.4], ytx: 40,
    xtitle: ['Water Deficit Anomaly [σ]'], xtdy: 48, wsize: 22,
    words: [{t: 'Wetter', x: 116, y: 574, a: 'start'}, {t: 'Drier', x: 575, y: 574, a: 'end'}]})

ribbon({xd: [-1.6, 3.57], xr: [678, 1175], yd: [-0.132, 0.618], yr: [587, 303],
    kx: dKx, med: dMed, inLo: dInLo, inHi: dInHi, midLo: dMidLo, midHi: dMidHi, outLo: dOutLo, outHi: dOutHi,
    colors: ['#eedea6', '#d98d85', '#6d4864'], lineColor: '#252538', pts: dPts, r: 6.5, zero: true,
    xticks: [-1, 0, 1, 2, 3], xfmt: fmtInt, yticks: [0, 0.2, 0.4, 0.6], ytx: 630,
    xtitle: ['Water Deficit Anomaly [σ]'], xtdy: 48, wsize: 22,
    words: [{t: 'Wetter', x: 784, y: 583, a: 'middle'}, {t: 'Drier', x: 1024, y: 583, a: 'middle'}]})

ribbon({xd: [-2.61, 2.6], xr: [92, 587], yd: [-0.141, 0.426], yr: [950, 665],
    kx: eKx, med: eMed, inLo: eInLo, inHi: eInHi, midLo: eMidLo, midHi: eMidHi, outLo: eOutLo, outHi: eOutHi,
    colors: ['#efec8c', '#8fca8d', '#6f7c7e'], lineColor: '#141414', pts: ePts, r: 4.6, zero: true,
    xticks: [-2, -1, 0, 1, 2], xfmt: fmtInt, yticks: [-0.1, 0, 0.1, 0.2, 0.3, 0.4], ytx: 40,
    xtitle: ['Short Wave anomaly', '3-mo', ' [σ]'], xtdy: 48, wsize: 22,
    words: [{t: 'Darker', x: 216, y: 937, a: 'middle'}, {t: 'Brighter', x: 463, y: 937, a: 'middle'}]})

ribbon({xd: [-1.5, 1.5], xr: [678, 1178], yd: [-0.137, 0.66], yr: [950, 665],
    kx: fKx, med: fMed, inLo: fInLo, inHi: fInHi, midLo: fMidLo, midHi: fMidHi, outLo: fOutLo, outHi: fOutHi,
    colors: ['#e7e7a2', '#8fc39b', '#696a86'], lineColor: '#15151f', pts: fPts, r: 5, zero: true,
    xticks: [-1.5, -1, -0.5, 0, 0.5, 1, 1.5], xfmt: fmt1, yticks: [0, 0.2, 0.4, 0.6], ytx: 630,
    xtitle: ['Short Wave anomaly', '3-mo', ' [σ]'], xtdy: 48, wsize: 19,
    words: [{t: 'Darker', x: 803, y: 943, a: 'middle'}, {t: 'Brighter', x: 1053, y: 943, a: 'middle'}]})

ribbon({xd: [0.349, 1.747], xr: [92, 587], yd: [-0.154, 0.508], yr: [1315, 1027],
    kx: gKx, med: gMed, inLo: gInLo, inHi: gInHi, midLo: gMidLo, midHi: gMidHi, outLo: gOutLo, outHi: gOutHi,
    colors: ['#f8e67a', '#e89d88', '#7a5896'], lineColor: '#140f14', pts: gPts, r: 4.6, zero: false,
    xticks: [0.4, 0.8, 1.2, 1.6], xfmt: fmt1, yticks: [-0.1, 0, 0.1, 0.2, 0.3, 0.4, 0.5], ytx: 40,
    xtitle: ['Monthly VPDmean', 'μ'], xtdy: 44, wsize: 22,
    words: [{t: 'Humid', x: 110, y: 1299, a: 'start'}, {t: 'Arid', x: 499, y: 1299, a: 'middle'}]})

ribbon({xd: [-1, 3], xr: [678, 1178], yd: [-0.137, 0.68], yr: [1313, 1027],
    kx: hKx, med: hMed, inLo: hInLo, inHi: hInHi, midLo: hMidLo, midHi: hMidHi, outLo: hOutLo, outHi: hOutHi,
    colors: ['#f1dc9b', '#df978f', '#914ea3'], lineColor: '#140a14', pts: hPts, r: 5, zero: true,
    xticks: [-1, 0, 1, 2, 3], xfmt: fmtInt, yticks: [0, 0.2, 0.4, 0.6], ytx: 630,
    xtitle: ['VPDmean anomaly', '3-mo', ' [σ]'], xtdy: 47, wsize: 22,
    words: [{t: 'Humid', x: 741, y: 1307, a: 'middle'}, {t: 'Arid', x: 1084, y: 1307, a: 'middle'}]})

panelLetter(12, 312, 'C')
panelLetter(604, 312, 'D')
panelLetter(12, 674, 'E')
panelLetter(604, 674, 'F')
panelLetter(12, 1038, 'G')
panelLetter(604, 1038, 'H')

// watermark over panel H
svg.append('text').attr('x', 617).attr('y', 1352).attr('textLength', 498).attr('lengthAdjust', 'spacingAndGlyphs')
    .style('font-family', 'DejaVu Sans, sans-serif').style('font-size', '22px').attr('fill', '#6e6e6e')
    .text('http://mc.manuscriptcentral.com/issue-ptrsb')
</script>
</body>
</html>
